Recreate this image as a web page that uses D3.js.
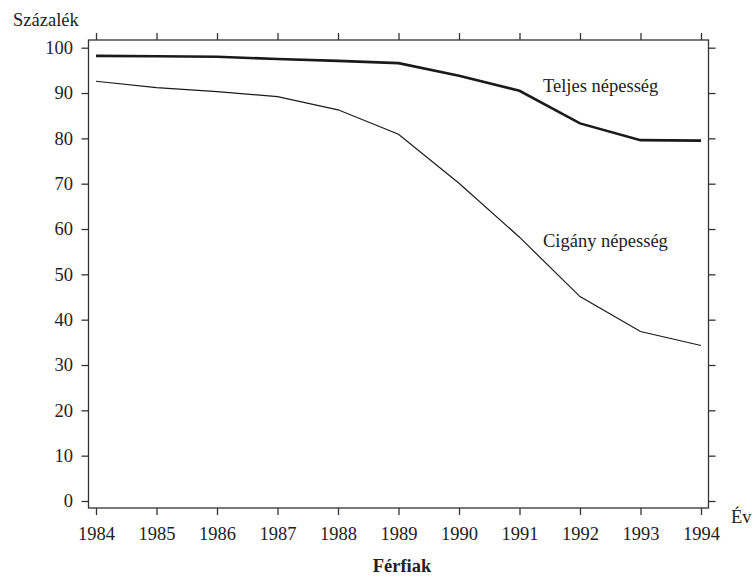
<!DOCTYPE html>
<html>
<head>
<meta charset="utf-8">
<script src="https://cdn.jsdelivr.net/npm/d3@7"></script>
<style>
  body { margin: 0; background: #fff; }
  text { font-family: "Liberation Serif", "Times New Roman", serif; fill: #222; }
</style>
</head>
<body>
<div id="chart"></div>
<script>
// Data
var years = [1984, 1985, 1986, 1987, 1988, 1989, 1990, 1991, 1992, 1993, 1994];
var teljes = [98.2, 98.1, 98.0, 97.5, 97.1, 96.6, 93.8, 90.5, 83.3, 79.6, 79.5];
var cigany = [92.6, 91.2, 90.3, 89.2, 86.3, 80.9, 70.1, 58.2, 45.1, 37.4, 34.3];
var yTicks = [0, 10, 20, 30, 40, 50, 60, 70, 80, 90, 100];

var svgWidth = 755;
var svgHeight = 584;

// plot frame
var frame = { left: 88.5, right: 708.5, top: 40, bottom: 508 };

var svg = d3.select("#chart")
    .append("svg")
    .attr("width", svgWidth)
    .attr("height", svgHeight);

var x = d3.scaleLinear().domain([1984, 1994]).range([96, 701]);
var y = d3.scaleLinear().domain([0, 100]).range([501, 47.7]);

var axisColor = "#333";
var fontSize = "18.5px";

function styleAxis(g) {
    g.select(".domain").remove();
    g.selectAll("line").attr("stroke", axisColor).attr("stroke-width", 1.3);
    g.selectAll("text").style("font-size", fontSize).attr("fill", "#222");
}

// left axis with labels
svg.append("g")
    .attr("transform", `translate(${frame.left},0)`)
    .call(d3.axisLeft(y).tickValues(yTicks).tickSize(7).tickPadding(8.5).tickSizeOuter(0))
    .call(styleAxis);

// right axis, ticks only
svg.append("g")
    .attr("transform", `translate(${frame.right},0)`)
    .call(d3.axisRight(y).tickValues(yTicks).tickSize(7).tickFormat("").tickSizeOuter(0))
    .call(styleAxis);

// bottom axis with year labels
svg.append("g")
    .attr("transform", `translate(0,${frame.bottom})`)
    .call(d3.axisBottom(x).tickValues(years).tickSize(7).tickFormat(d3.format("d")).tickSizeOuter(0))
    .call(styleAxis)
    .call(g => g.selectAll("text").attr("y", 32).attr("dy", null));

// top axis, ticks only
svg.append("g")
    .attr("transform", `translate(0,${frame.top})`)
    .call(d3.axisTop(x).tickValues(years).tickSize(7).tickFormat("").tickSizeOuter(0))
    .call(styleAxis);

// frame
svg.append("rect")
    .attr("x", frame.left)
    .attr("y", frame.top)
    .attr("width", frame.right - frame.left)
    .attr("height", frame.bottom - frame.top)
    .attr("fill", "none")
    .attr("stroke", axisColor)
    .attr("stroke-width", 1.3);

var line = d3.line()
    .x((d, i) => x(years[i]))
    .y(d => y(d));

svg.append("path")
    .datum(teljes)
    .attr("d", line)
    .attr("fill", "none")
    .attr("stroke", "#1a1a1a")
    .attr("stroke-width", 2.6);

svg.append("path")
    .datum(cigany)
    .attr("d", line)
    .attr("fill", "none")
    .attr("stroke", "#1a1a1a")
    .attr("stroke-width", 1.2);

// series labels
svg.append("text")
    .attr("x", 543)
    .attr("y", 91.5)
    .style("font-size", fontSize)
    .text("Teljes népesség");

svg.append("text")
    .attr("x", 543)
    .attr("y", 246.5)
    .style("font-size", fontSize)
    .text("Cigány népesség");

// axis titles
svg.append("text")
    .attr("x", 13)
    .attr("y", 26)
    .style("font-size", fontSize)
    .text("Százalék");

svg.append("text")
    .attr("x", 731)
    .attr("y", 523)
    .style("font-size", fontSize)
    .text("Év");

svg.append("text")
    .attr("x", 402)
    .attr("y", 572)
    .attr("text-anchor", "middle")
    .style("font-size", fontSize)
    .style("font-weight", "bold")
    .text("Férfiak");
</script>
</body>
</html>
